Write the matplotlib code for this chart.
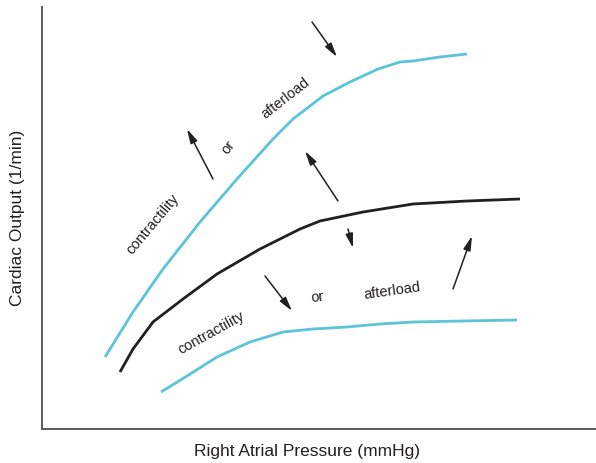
import matplotlib.pyplot as plt

plt.rcParams["font.family"] = ["Liberation Sans", "DejaVu Sans"]

# curves (arbitrary units, pixel-like scale)
upper_x = [105, 133, 163, 200, 237, 273, 293, 323, 350, 378, 400, 413, 440, 467]
upper_y = [106, 151, 194, 241, 284, 324, 344, 367, 381, 394, 401, 402, 406, 409]
base_x = [120, 133, 153, 183, 217, 260, 280, 300, 320, 363, 413, 467, 520]
base_y = [91, 114, 141, 164, 189, 214, 224, 234, 242, 251, 259, 262, 264]
lower_x = [161, 187, 217, 250, 283, 313, 347, 380, 413, 463, 517]
lower_y = [71, 87, 106, 121, 131, 134, 136, 139, 141, 142, 143]

# arrows (tail, head)
arrows = [
    ((213, 284), (187, 334)),
    ((312, 441), (337, 406)),
    ((338, 262), (305, 312)),
    ((348, 234), (353, 215)),
    ((265, 187), (292, 152)),
    ((453, 174), (472, 227)),
]

# labels: text, position, rotation
labels = [
    ("contractility", (153, 240), 50),
    ("or", (228, 317), 52),
    ("afterload", (285, 366), 38),
    ("contractility", (211, 131), 29),
    ("or", (317, 167), 6),
    ("afterload", (392, 173), 8),
]

cyan = "#5bc4d8"
dark = "#231f20"

fig = plt.figure(figsize=(5.96, 4.64), dpi=100)
ax = fig.add_axes([42 / 596, 34 / 464, 554 / 596, 422 / 464])

ax.plot(upper_x, upper_y, color=cyan, lw=2.0, solid_capstyle="butt", solid_joinstyle="round")
ax.plot(base_x, base_y, color=dark, lw=2.0, solid_capstyle="butt", solid_joinstyle="round")
ax.plot(lower_x, lower_y, color=cyan, lw=2.0, solid_capstyle="butt", solid_joinstyle="round")

for tail, head in arrows:
    ax.annotate("", xy=head, xytext=tail,
                arrowprops=dict(arrowstyle="-|>,head_length=0.85,head_width=0.22",
                                color=dark, lw=1.1, shrinkA=0, shrinkB=0))

for text, pos, rot in labels:
    ax.text(pos[0], pos[1], text, rotation=rot, rotation_mode="anchor",
            ha="center", va="center", fontsize=10.5, color=dark)

ax.set_xlim(42, 596)
ax.set_ylim(34, 456)
ax.set_xticks([])
ax.set_yticks([])
for side in ("top", "right"):
    ax.spines[side].set_visible(False)
for side in ("left", "bottom"):
    ax.spines[side].set_color("#58595b")
    ax.spines[side].set_linewidth(1.4)

fig.text(307 / 596, 1 - 452 / 464, "Right Atrial Pressure (mmHg)",
         ha="center", va="center", fontsize=12.5, color=dark)
fig.text(18 / 596, 1 - 218 / 464, "Cardiac Output (1/min)", rotation=90,
         ha="center", va="center", fontsize=12.5, color=dark)

fig.savefig("out.png", dpi=100)
